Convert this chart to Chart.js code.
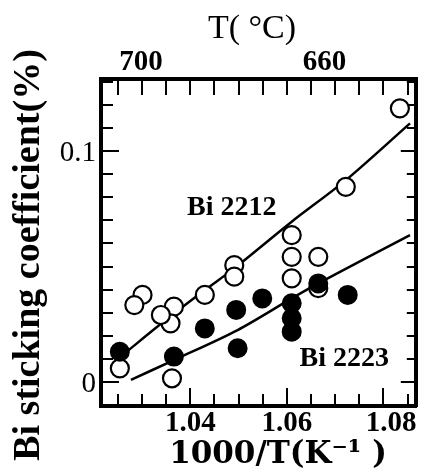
<!DOCTYPE html>
<html>
<head>
<meta charset="utf-8">
<script src="https://cdn.jsdelivr.net/npm/chart.js@4.4.0/dist/chart.umd.min.js"></script>
<style>
html,body{margin:0;padding:0;background:#fff;}
#wrap{width:427px;height:475px;}
</style>
</head>
<body>
<div id="wrap"><canvas id="c" width="427" height="475"></canvas></div>
<script>
// ---- data ----
const bi2212X = [1.0834, 1.0722, 1.0610, 1.0610, 1.0610, 1.0665, 1.0665, 1.0491, 1.0491, 1.0430, 1.0366, 1.0359, 1.0339, 1.0301, 1.0284, 1.0254, 1.0362];
const bi2212Y = [0.1185, 0.0845, 0.0636, 0.0542, 0.0449, 0.0542, 0.0406, 0.0506, 0.0456, 0.0377, 0.0326, 0.0254, 0.0290, 0.0377, 0.0333, 0.0059, 0.0016];
const bi2223X = [1.0254, 1.0366, 1.0430, 1.0495, 1.0498, 1.0549, 1.0610, 1.0610, 1.0610, 1.0665, 1.0726];
const bi2223Y = [0.0131, 0.0110, 0.0232, 0.0312, 0.0146, 0.0362, 0.0341, 0.0276, 0.0218, 0.0427, 0.0377];
const fit2212X = [1.0264, 1.0349, 1.0430, 1.0491, 1.0610, 1.0722, 1.0855];
const fit2212Y = [0.0124, 0.0268, 0.0398, 0.0492, 0.0694, 0.0874, 0.1120];
const fit2223X = [1.0277, 1.0366, 1.0498, 1.0610, 1.0665, 1.0855];
const fit2223Y = [0.0009, 0.0095, 0.0225, 0.0362, 0.0427, 0.0636];

const seriesLabels = ['Bi 2212', 'Bi 2223'];
const seriesLabelX = [1.0486, 1.0719];
const seriesLabelY = [0.0755, 0.0100];

const xTickLabels = ['1.04', '1.06', '1.08'];
const xTickLabelValues = [1.04, 1.06, 1.0816];
const xMajorTicks = [1.04, 1.06, 1.08];
const xMinorTicks = [1.025, 1.03, 1.035, 1.045, 1.05, 1.055, 1.065, 1.07, 1.075, 1.085];
const topTickLabels = ['700', '660'];
const topTickLabelValues = [1.0298, 1.0678];
const topTicks = [1.025, 1.03, 1.035, 1.04, 1.045, 1.05, 1.055, 1.06, 1.065, 1.07, 1.075, 1.08, 1.085];
const yTickLabels = ['0', '0.1'];
const yMajorTicks = [0, 0.1];
const yMinorTicks = [-0.01, 0.01, 0.02, 0.03, 0.04, 0.05, 0.06, 0.07, 0.08, 0.09, 0.11, 0.12, 0.13];

const xTitle = '1000/T(K\u207B\u00B9 )';
const yTitle = 'Bi sticking coefficient(%)';
const topTitle = 'T( \u00B0C)';

const X_MIN = 1.0215, X_MAX = 1.0867, Y_MIN = -0.0104, Y_MAX = 0.1312;
const BLACK = '#000';

function setTicks(values) {
  return (scale) => { scale.ticks = values.map(v => ({ value: v })); };
}
function fixSize(size) {
  return (scale) => {
    if (scale.isHorizontal()) scale.height = size; else scale.width = size;
    scale.paddingLeft = 0; scale.paddingRight = 0; scale.paddingTop = 0; scale.paddingBottom = 0;
  };
}
function tickAxis(position, values, len, border) {
  const horizontal = position === 'top' || position === 'bottom';
  return {
    type: 'linear', position, bounds: 'data',
    min: horizontal ? X_MIN : Y_MIN, max: horizontal ? X_MAX : Y_MAX,
    weight: 0,
    afterBuildTicks: setTicks(values),
    afterFit: fixSize(0),
    grid: { display: true, drawOnChartArea: false, drawTicks: true, tickLength: -len,
            tickWidth: 2, tickColor: BLACK, color: BLACK, lineWidth: 2 },
    border: { display: border, color: BLACK, width: 4 },
    ticks: { display: false }
  };
}
function labelAxis(position, values, labels, size, font, padding, labelOffset) {
  const horizontal = position === 'top' || position === 'bottom';
  return {
    type: 'linear', position, bounds: 'data',
    min: horizontal ? X_MIN : Y_MIN, max: horizontal ? X_MAX : Y_MAX,
    weight: 1,
    afterBuildTicks: setTicks(values),
    afterFit: fixSize(size),
    grid: { display: false, drawTicks: false },
    border: { display: false },
    ticks: { callback: (v, i) => labels[i], font, color: BLACK, padding,
             labelOffset: labelOffset || 0, autoSkip: false, maxRotation: 0, minRotation: 0 }
  };
}

const titlePlugin = {
  id: 'axisTitles',
  afterDraw(chart) {
    const { ctx, chartArea: a, scales } = chart;
    ctx.save();
    ctx.fillStyle = BLACK;
    ctx.textAlign = 'center';
    ctx.textBaseline = 'middle';
    ctx.font = '34px "Liberation Serif"';
    ctx.fillText(topTitle, a.left + 151, a.top - 49.5);
    ctx.font = 'bold 31px "DejaVu Serif"';
    ctx.fillText(xTitle, a.left + 177, a.bottom + 49);
    ctx.save();
    ctx.translate(a.left - 72, (a.top + a.bottom) / 2 + 12.5);
    ctx.rotate(-Math.PI / 2);
    ctx.font = 'bold 38px "Liberation Serif"';
    ctx.fillText(yTitle, 0, 0);
    ctx.restore();
    ctx.font = 'bold 28px "Liberation Serif"';
    seriesLabels.forEach((t, i) => {
      ctx.fillText(t, scales.x.getPixelForValue(seriesLabelX[i]), scales.y.getPixelForValue(seriesLabelY[i]));
    });
    ctx.restore();
  }
};

const tickFontBold = { family: '"Liberation Serif"', size: 29, weight: 'bold', lineHeight: 1 };
const tickFontReg = { family: '"Liberation Serif"', size: 29, weight: 'normal', lineHeight: 1 };

new Chart(document.getElementById('c'), {
  type: 'scatter',
  data: {
    datasets: [
      { label: 'Bi 2223', data: bi2223X.map((x, i) => ({ x, y: bi2223Y[i] })),
        pointRadius: 9, pointBackgroundColor: BLACK, pointBorderColor: BLACK, pointBorderWidth: 2, order: 0 },
      { label: 'Bi 2212', data: bi2212X.map((x, i) => ({ x, y: bi2212Y[i] })),
        pointRadius: 9, pointBackgroundColor: '#fff', pointBorderColor: BLACK, pointBorderWidth: 2.2, order: 1 },
      { label: 'Bi 2212 fit', data: fit2212X.map((x, i) => ({ x, y: fit2212Y[i] })),
        showLine: true, pointRadius: 0, borderColor: BLACK, borderWidth: 2.5, tension: 0.3, order: 2 },
      { label: 'Bi 2223 fit', data: fit2223X.map((x, i) => ({ x, y: fit2223Y[i] })),
        showLine: true, pointRadius: 0, borderColor: BLACK, borderWidth: 2.5, tension: 0.3, order: 2 }
    ]
  },
  options: {
    responsive: false,
    animation: false,
    devicePixelRatio: 1,
    layout: { padding: { left: 0, right: 6, top: 0, bottom: 0 } },
    plugins: { legend: { display: false }, tooltip: { enabled: false } },
    scales: {
      x: labelAxis('bottom', xTickLabelValues, xTickLabels, 69, tickFontBold, 3),
      xMinor: tickAxis('bottom', xMinorTicks, 12, true),
      xMajor: tickAxis('bottom', xMajorTicks, 18, false),
      xTop: labelAxis('top', topTickLabelValues, topTickLabels, 79, tickFontBold, 2),
      xTopTicks: tickAxis('top', topTicks, 16, true),
      y: labelAxis('left', yMajorTicks, yTickLabels, 101, tickFontReg, 5, 2),
      yMinor: tickAxis('left', yMinorTicks, 12, true),
      yMajor: tickAxis('left', yMajorTicks, 18, false),
      yRMinor: tickAxis('right', yMinorTicks, 9, true),
      yRMajor: tickAxis('right', yMajorTicks, 15, false)
    }
  },
  plugins: [titlePlugin]
});
</script>
</body>
</html>
